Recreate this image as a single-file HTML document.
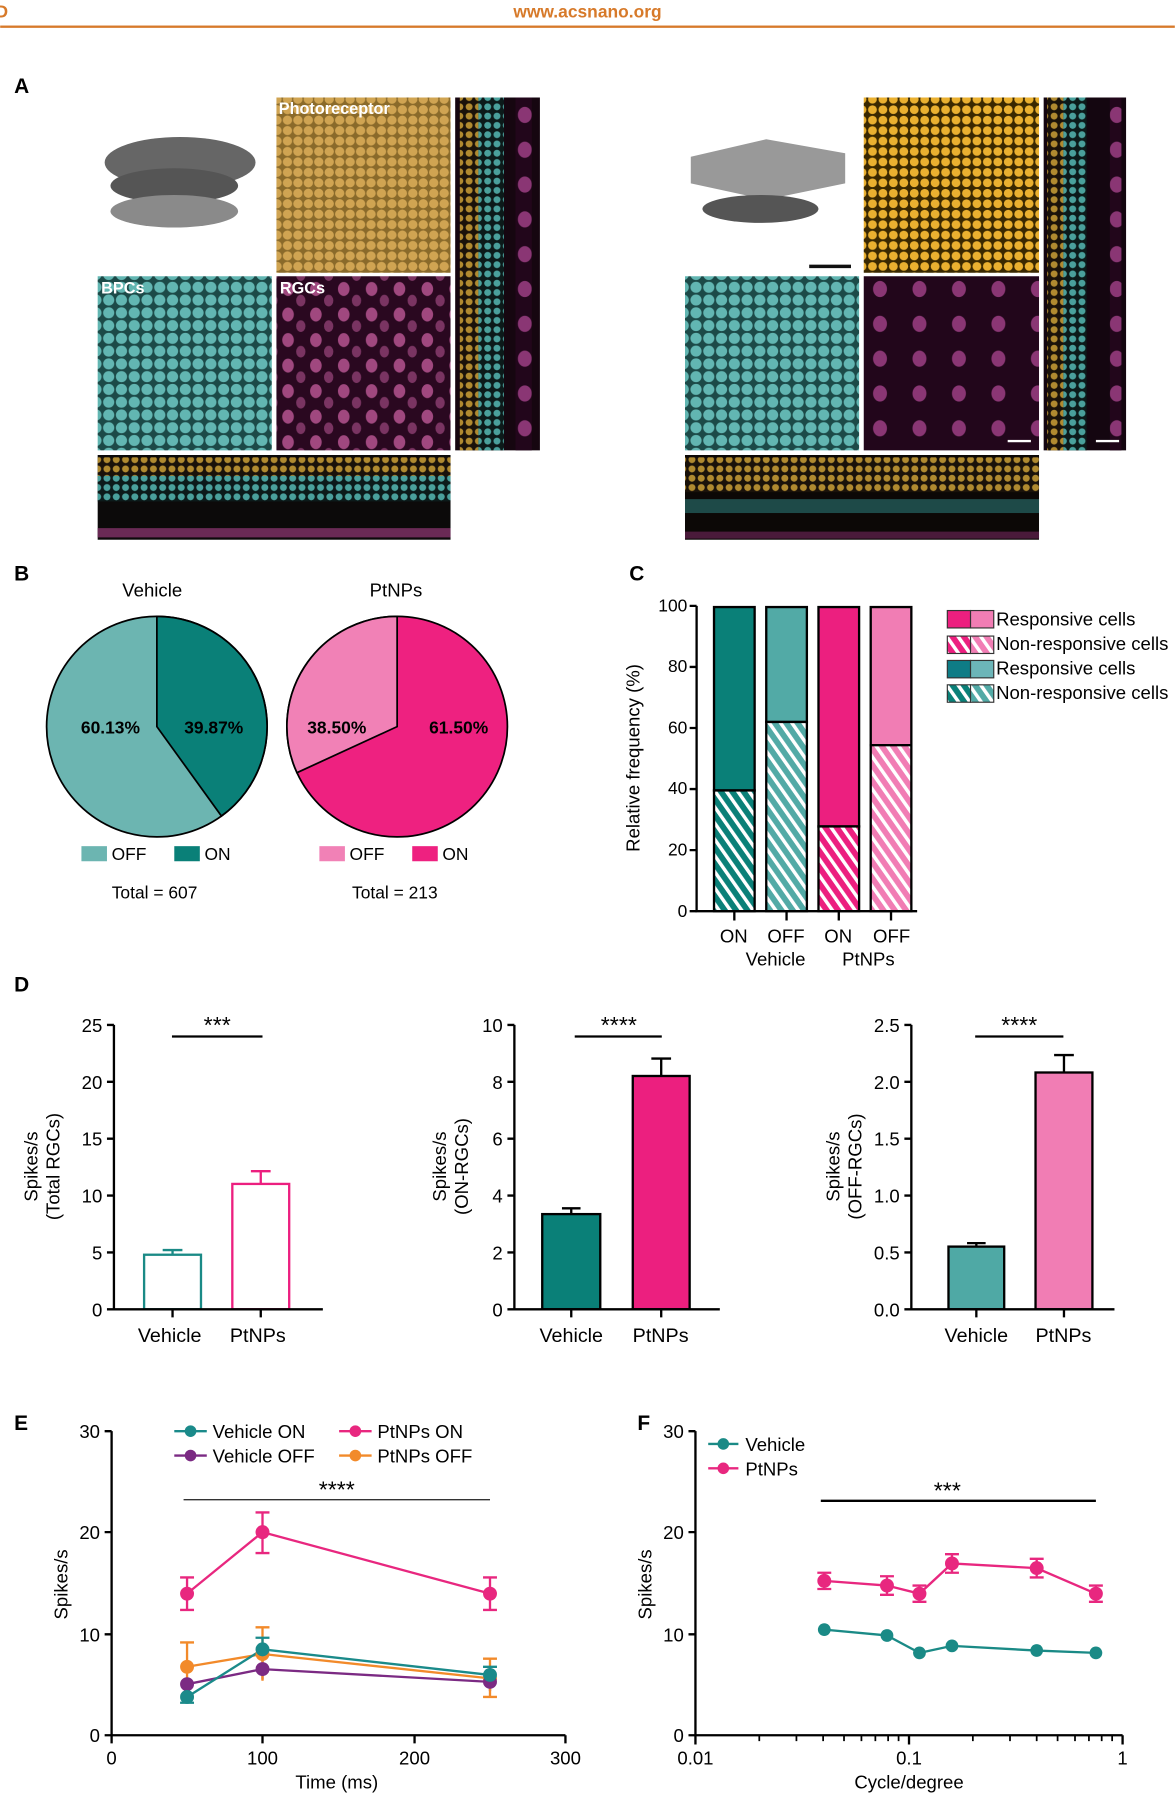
<!DOCTYPE html>
<html><head><meta charset="utf-8"><style>
html,body{margin:0;padding:0;background:#fff;}
svg{display:block;}
text{font-family:"Liberation Sans",Arial,sans-serif;}
</style></head><body>
<svg width="1175" height="1820" viewBox="0 0 1012 1568" xmlns="http://www.w3.org/2000/svg">
<defs>
<pattern id="yel1" width="9" height="9" patternUnits="userSpaceOnUse"><rect width="9" height="9" fill="#8a6a2a"/><circle cx="4.5" cy="4.5" r="4" fill="#d0a452"/></pattern>
<pattern id="yel2" width="9" height="9" patternUnits="userSpaceOnUse"><rect width="9" height="9" fill="#3a2800"/><circle cx="4.5" cy="4.5" r="3.8" fill="#eab030"/></pattern>
<pattern id="cyn" width="11" height="11" patternUnits="userSpaceOnUse"><rect width="11" height="11" fill="#1c4a48"/><circle cx="5.5" cy="5.5" r="4.8" fill="#62b6b2"/></pattern>
<pattern id="mag" width="24" height="22" patternUnits="userSpaceOnUse"><rect width="24" height="22" fill="#2a0820"/><ellipse cx="8" cy="7" rx="5" ry="6" fill="#a0487f"/><ellipse cx="19" cy="17" rx="4" ry="5" fill="#7a3462"/></pattern>
<pattern id="mag2" width="34" height="30" patternUnits="userSpaceOnUse"><rect width="34" height="30" fill="#22061b"/><ellipse cx="10" cy="9" rx="6" ry="7" fill="#8a3674"/></pattern>
<pattern id="yc" width="8" height="8" patternUnits="userSpaceOnUse"><rect width="8" height="8" fill="#1a120a"/><circle cx="4" cy="4" r="3" fill="#b08a30"/></pattern>
<pattern id="cc" width="8" height="8" patternUnits="userSpaceOnUse"><rect width="8" height="8" fill="#0c1a1a"/><circle cx="4" cy="4" r="3" fill="#4aa09c"/></pattern>
<pattern id="h1" width="8" height="8" patternUnits="userSpaceOnUse" patternTransform="rotate(-35)"><rect width="8" height="8" fill="#0a8078"/><rect width="3" height="8" fill="#fff"/></pattern>
<pattern id="h2" width="8" height="8" patternUnits="userSpaceOnUse" patternTransform="rotate(-35)"><rect width="8" height="8" fill="#52aaa6"/><rect width="3" height="8" fill="#fff"/></pattern>
<pattern id="h3" width="8" height="8" patternUnits="userSpaceOnUse" patternTransform="rotate(-35)"><rect width="8" height="8" fill="#ec1f7f"/><rect width="3" height="8" fill="#fff"/></pattern>
<pattern id="h4" width="8" height="8" patternUnits="userSpaceOnUse" patternTransform="rotate(-35)"><rect width="8" height="8" fill="#f17db4"/><rect width="3" height="8" fill="#fff"/></pattern>
</defs>

<!-- header -->
<text x="506" y="15" font-size="15" font-weight="bold" fill="#d77a2a" text-anchor="middle">www.acsnano.org</text>
<text x="-4" y="15" font-size="15" font-weight="bold" fill="#d77a2a">D</text>
<rect x="0" y="22" width="1012" height="2" fill="#d77a2a"/>

<!-- A -->
<text x="12" y="80" font-size="18" font-weight="bold">A</text>
<g>
<ellipse cx="155" cy="140" rx="65" ry="22" fill="#666"/>
<ellipse cx="150" cy="160" rx="55" ry="15" fill="#555"/>
<ellipse cx="150" cy="182" rx="55" ry="14" fill="#8a8a8a"/>
<rect x="238" y="84" width="150" height="151" fill="url(#yel1)"/>
<text x="240" y="98" font-size="14" font-weight="bold" fill="#fff">Photoreceptor</text>
<rect x="392" y="84" width="73" height="304" fill="#160610"/>
<rect x="396" y="84" width="16" height="304" fill="url(#yc)"/>
<rect x="412" y="84" width="22" height="304" fill="url(#cc)"/>
<rect x="444" y="84" width="14" height="304" fill="url(#mag2)"/>
<rect x="84" y="238" width="150" height="150" fill="url(#cyn)"/>
<text x="87" y="253" font-size="14" font-weight="bold" fill="#fff">BPCs</text>
<rect x="238" y="238" width="150" height="150" fill="url(#mag)"/>
<text x="241" y="253" font-size="14" font-weight="bold" fill="#fff">RGCs</text>
<rect x="84" y="392" width="304" height="73" fill="#0c0a0a"/>
<rect x="84" y="394" width="304" height="16" fill="url(#yc)"/>
<rect x="84" y="410" width="304" height="22" fill="url(#cc)"/>
<rect x="84" y="455" width="304" height="8" fill="#6a2a55"/>
</g>
<g>
<path d="M595 135 L660 120 L728 132 L728 158 L660 172 L595 158 Z" fill="#999"/>
<ellipse cx="655" cy="180" rx="50" ry="12" fill="#555"/>
<rect x="697" y="228" width="36" height="3" fill="#111"/>
<rect x="744" y="84" width="151" height="151" fill="url(#yel2)"/>
<rect x="899" y="84" width="71" height="304" fill="#140610"/>
<rect x="902" y="84" width="14" height="304" fill="url(#yc)"/>
<rect x="916" y="84" width="20" height="304" fill="url(#cc)"/>
<rect x="956" y="84" width="10" height="304" fill="url(#mag2)"/>
<rect x="590" y="238" width="150" height="150" fill="url(#cyn)"/>
<rect x="744" y="238" width="151" height="150" fill="url(#mag2)"/>
<rect x="868" y="379" width="20" height="2" fill="#fff"/>
<rect x="944" y="379" width="20" height="2" fill="#fff"/>
<rect x="590" y="392" width="305" height="73" fill="#0c0806"/>
<rect x="590" y="394" width="305" height="30" fill="url(#yc)"/>
<rect x="590" y="430" width="305" height="12" fill="#1e4a48"/>
<rect x="590" y="458" width="305" height="6" fill="#4a1a3a"/>
</g>

<!-- B -->
<text x="12" y="500" font-size="18" font-weight="bold">B</text>
<text x="131" y="514" font-size="16" text-anchor="middle">Vehicle</text>
<text x="341" y="514" font-size="16" text-anchor="middle">PtNPs</text>
<g stroke="#000" stroke-width="1.5">
<circle cx="135" cy="626" r="95" fill="#6cb5b1"/>
<path d="M135 626 L135 531 A95 95 0 0 1 190.6 703 Z" fill="#0a8078"/>
<circle cx="342" cy="626" r="95" fill="#ee2180"/>
<path d="M342 626 L342 531 A95 95 0 0 0 255.7 665.7 Z" fill="#f181b6"/>
</g>
<g font-size="15" font-weight="bold" text-anchor="middle">
<text x="95" y="632">60.13%</text><text x="184" y="632">39.87%</text>
<text x="290" y="632">38.50%</text><text x="395" y="632">61.50%</text>
</g>
<g font-size="15">
<rect x="70" y="729" width="22" height="13" fill="#6cb5b1"/><text x="96" y="741">OFF</text>
<rect x="150" y="729" width="22" height="13" fill="#0a8078"/><text x="176" y="741">ON</text>
<rect x="275" y="729" width="22" height="13" fill="#f181b6"/><text x="301" y="741">OFF</text>
<rect x="355" y="729" width="22" height="13" fill="#ee2180"/><text x="381" y="741">ON</text>
<text x="133" y="774" text-anchor="middle">Total = 607</text>
<text x="340" y="774" text-anchor="middle">Total = 213</text>
</g>

<!-- C -->
<text x="542" y="500" font-size="18" font-weight="bold">C</text>
<g stroke="#000" stroke-width="2">
<rect x="615" y="523" width="35" height="158" fill="#0a8078"/>
<rect x="615" y="681" width="35" height="104" fill="url(#h1)"/>
<rect x="660" y="523" width="35" height="99" fill="#52aaa6"/>
<rect x="660" y="622" width="35" height="163" fill="url(#h2)"/>
<rect x="705" y="523" width="35" height="189" fill="#ec1f7f"/>
<rect x="705" y="712" width="35" height="73" fill="url(#h3)"/>
<rect x="750" y="523" width="35" height="119" fill="#f17db4"/>
<rect x="750" y="642" width="35" height="143" fill="url(#h4)"/>
<path d="M600 522 V785 H790" fill="none"/>
<path d="M594 522 H600 M594 574.6 H600 M594 627.2 H600 M594 679.8 H600 M594 732.4 H600 M594 785 H600 M632.5 785 V793 M677.5 785 V793 M722.5 785 V793 M767.5 785 V793" fill="none"/>
</g>
<g font-size="15" text-anchor="end">
<text x="592" y="527">100</text><text x="592" y="579">80</text><text x="592" y="632">60</text><text x="592" y="684">40</text><text x="592" y="737">20</text><text x="592" y="790">0</text>
</g>
<text transform="translate(551,653) rotate(-90)" font-size="16" text-anchor="middle">Relative frequency (%)</text>
<g font-size="16" text-anchor="middle">
<text x="632" y="812">ON</text><text x="677" y="812">OFF</text><text x="722" y="812">ON</text><text x="768" y="812">OFF</text>
<text x="668" y="832">Vehicle</text><text x="748" y="832">PtNPs</text>
</g>
<g stroke="#333" stroke-width="1">
<rect x="816" y="526" width="20" height="15" fill="#ec1f7f"/><rect x="836" y="526" width="20" height="15" fill="#f17db4"/>
<rect x="816" y="548" width="20" height="15" fill="url(#h3)"/><rect x="836" y="548" width="20" height="15" fill="url(#h4)"/>
<rect x="816" y="569" width="20" height="15" fill="#0e7c86"/><rect x="836" y="569" width="20" height="15" fill="#6cb5b8"/>
<rect x="816" y="590" width="20" height="15" fill="url(#h1)"/><rect x="836" y="590" width="20" height="15" fill="url(#h2)"/>
</g>
<g font-size="16">
<text x="858" y="539">Responsive cells</text><text x="858" y="560">Non-responsive cells</text>
<text x="858" y="581">Responsive cells</text><text x="858" y="602">Non-responsive cells</text>
</g>

<!-- D -->
<text x="12" y="854" font-size="18" font-weight="bold">D</text>
<g stroke-width="2" fill="none">
<rect x="124" y="1081" width="49" height="47" stroke="#1a8a86" fill="#fff"/>
<rect x="200" y="1020" width="49" height="108" stroke="#ec1f7f" fill="#fff"/>
<path d="M148.5 1081 V1077 M140 1077 H157" stroke="#1a8a86"/>
<path d="M224.5 1020 V1009 M216 1009 H233" stroke="#ec1f7f"/>
<path d="M98 883 V1128 H278 M92 883 H98 M92 932 H98 M92 981 H98 M92 1030 H98 M92 1079 H98 M92 1128 H98 M148.5 1128 V1135 M224.5 1128 V1135 M148 893 H226" stroke="#000"/>
</g>
<g font-size="16" text-anchor="end">
<text x="88" y="889">25</text><text x="88" y="938">20</text><text x="88" y="987">15</text><text x="88" y="1036">10</text><text x="88" y="1085">5</text><text x="88" y="1134">0</text>
</g>
<text x="187" y="890" font-size="20" text-anchor="middle">***</text>
<text transform="translate(32,1005) rotate(-90)" font-size="16" text-anchor="middle">Spikes/s</text>
<text transform="translate(51,1005) rotate(-90)" font-size="16" text-anchor="middle">(Total RGCs)</text>
<text x="146" y="1156" font-size="17" text-anchor="middle">Vehicle</text>
<text x="222" y="1156" font-size="17" text-anchor="middle">PtNPs</text>
<g stroke-width="2" stroke="#000">
<rect x="467" y="1046" width="50" height="82" fill="#0a8078"/>
<rect x="545" y="927" width="49" height="201" fill="#ec1f7f"/>
<path d="M492 1046 V1041 M484 1041 H500 M569.5 927 V912 M561 912 H578" fill="none"/>
<path d="M443 883 V1128 H620 M437 883 H443 M437 932 H443 M437 981 H443 M437 1030 H443 M437 1079 H443 M437 1128 H443 M492 1128 V1135 M569.5 1128 V1135 M495 893 H570" fill="none"/>
</g>
<g font-size="16" text-anchor="end">
<text x="433" y="889">10</text><text x="433" y="938">8</text><text x="433" y="987">6</text><text x="433" y="1036">4</text><text x="433" y="1085">2</text><text x="433" y="1134">0</text>
</g>
<text x="533" y="890" font-size="20" text-anchor="middle">****</text>
<text transform="translate(384,1005) rotate(-90)" font-size="16" text-anchor="middle">Spikes/s</text>
<text transform="translate(403,1005) rotate(-90)" font-size="16" text-anchor="middle">(ON-RGCs)</text>
<text x="492" y="1156" font-size="17" text-anchor="middle">Vehicle</text>
<text x="569" y="1156" font-size="17" text-anchor="middle">PtNPs</text>
<g stroke-width="2" stroke="#000">
<rect x="817" y="1074" width="48" height="54" fill="#4fa9a5"/>
<rect x="892" y="924" width="49" height="204" fill="#f17db4"/>
<path d="M841 1074 V1071 M833 1071 H849 M916.5 924 V909 M908 909 H925" fill="none"/>
<path d="M785 883 V1128 H960 M779 883 H785 M779 932 H785 M779 981 H785 M779 1030 H785 M779 1079 H785 M779 1128 H785 M841 1128 V1135 M916.5 1128 V1135 M840 893 H916" fill="none"/>
</g>
<g font-size="16" text-anchor="end">
<text x="775" y="889">2.5</text><text x="775" y="938">2.0</text><text x="775" y="987">1.5</text><text x="775" y="1036">1.0</text><text x="775" y="1085">0.5</text><text x="775" y="1134">0.0</text>
</g>
<text x="878" y="890" font-size="20" text-anchor="middle">****</text>
<text transform="translate(723,1005) rotate(-90)" font-size="16" text-anchor="middle">Spikes/s</text>
<text transform="translate(742,1005) rotate(-90)" font-size="16" text-anchor="middle">(OFF-RGCs)</text>
<text x="841" y="1156" font-size="17" text-anchor="middle">Vehicle</text>
<text x="916" y="1156" font-size="17" text-anchor="middle">PtNPs</text>

<!-- E -->
<text x="12" y="1232" font-size="18" font-weight="bold">E</text>
<g stroke="#000" stroke-width="2" fill="none">
<path d="M96 1233 V1495 H487 M90 1233 H96 M90 1320 H96 M90 1408 H96 M90 1495 H96 M96 1495 V1502 M226 1495 V1502 M357 1495 V1502 M487 1495 V1502"/>
</g>
<path d="M158 1292 H422" stroke="#333" stroke-width="1.2"/>
<text x="290" y="1290" font-size="20" text-anchor="middle">****</text>
<g font-size="16" text-anchor="end">
<text x="86" y="1239">30</text><text x="86" y="1326">20</text><text x="86" y="1414">10</text><text x="86" y="1501">0</text>
</g>
<g font-size="16" text-anchor="middle">
<text x="96" y="1520">0</text><text x="226" y="1520">100</text><text x="357" y="1520">200</text><text x="487" y="1520">300</text>
<text x="290" y="1541">Time (ms)</text>
</g>
<text transform="translate(58,1365) rotate(-90)" font-size="16" text-anchor="middle">Spikes/s</text>
<g stroke-width="2" fill="none">
<g stroke="#7b2a83"><path d="M161 1451 L226 1438 L422 1449"/><path d="M226 1429 V1447 M422 1441 V1457"/></g>
<g stroke="#f28a2a"><path d="M161 1436 L226 1425 L422 1446"/><path d="M161 1415 V1457 M155 1415 H167 M226 1402 V1448 M220 1402 H232 M422 1429 V1462 M416 1429 H428 M416 1462 H428"/></g>
<g stroke="#1a8a8a"><path d="M161 1462 L226 1421 L422 1443"/><path d="M161 1457 V1467 M155 1467 H167 M226 1411 V1431 M220 1411 H232 M422 1436 V1450 M416 1436 H428"/></g>
<g stroke="#e8277f"><path d="M161 1373 L226 1320 L422 1373"/><path d="M161 1359 V1387 M155 1359 H167 M155 1387 H167 M226 1303 V1338 M220 1303 H232 M220 1338 H232 M422 1359 V1387 M416 1359 H428 M416 1387 H428"/></g>
</g>
<g>
<circle cx="161" cy="1436" r="6" fill="#f28a2a"/><circle cx="226" cy="1425" r="6" fill="#f28a2a"/><circle cx="422" cy="1446" r="6" fill="#f28a2a"/>
<circle cx="161" cy="1451" r="6" fill="#7b2a83"/><circle cx="226" cy="1438" r="6" fill="#7b2a83"/><circle cx="422" cy="1449" r="6" fill="#7b2a83"/>
<circle cx="161" cy="1462" r="6" fill="#1a8a8a"/><circle cx="226" cy="1421" r="6" fill="#1a8a8a"/><circle cx="422" cy="1443" r="6" fill="#1a8a8a"/>
<circle cx="161" cy="1373" r="6" fill="#e8277f"/><circle cx="226" cy="1320" r="6" fill="#e8277f"/><circle cx="422" cy="1373" r="6" fill="#e8277f"/>
</g>
<g stroke-width="2">
<path d="M150 1233 H178" stroke="#1a8a8a"/><circle cx="164" cy="1233" r="5" fill="#1a8a8a"/>
<path d="M150 1254 H178" stroke="#7b2a83"/><circle cx="164" cy="1254" r="5" fill="#7b2a83"/>
<path d="M292 1233 H320" stroke="#e8277f"/><circle cx="306" cy="1233" r="5" fill="#e8277f"/>
<path d="M292 1254 H320" stroke="#f28a2a"/><circle cx="306" cy="1254" r="5" fill="#f28a2a"/>
</g>
<g font-size="16">
<text x="183" y="1239">Vehicle ON</text><text x="183" y="1260">Vehicle OFF</text>
<text x="325" y="1239">PtNPs ON</text><text x="325" y="1260">PtNPs OFF</text>
</g>

<!-- F -->
<text x="549" y="1232" font-size="18" font-weight="bold">F</text>
<g stroke="#000" stroke-width="2" fill="none">
<path d="M599 1233 V1495 H967 M593 1233 H599 M593 1320 H599 M593 1408 H599 M593 1495 H599 M599 1495 V1503 M783 1495 V1503 M967 1495 V1503"/>
</g>
<g stroke="#000" stroke-width="1.5">
<path d="M654 1495 V1500 M686 1495 V1500 M709 1495 V1500 M727 1495 V1500 M742 1495 V1500 M754 1495 V1500 M765 1495 V1500 M774 1495 V1500 M838 1495 V1500 M870 1495 V1500 M893 1495 V1500 M911 1495 V1500 M926 1495 V1500 M938 1495 V1500 M949 1495 V1500 M958 1495 V1500"/>
</g>
<g font-size="16" text-anchor="end">
<text x="589" y="1239">30</text><text x="589" y="1326">20</text><text x="589" y="1414">10</text><text x="589" y="1501">0</text>
</g>
<g font-size="16" text-anchor="middle">
<text x="599" y="1520">0.01</text><text x="783" y="1520">0.1</text><text x="967" y="1520">1</text>
<text x="783" y="1541">Cycle/degree</text>
</g>
<text transform="translate(561,1365) rotate(-90)" font-size="16" text-anchor="middle">Spikes/s</text>
<path d="M707 1293 H944" stroke="#000" stroke-width="2"/>
<text x="816" y="1291" font-size="20" text-anchor="middle">***</text>
<g stroke-width="2" fill="none">
<path d="M710 1404 L764 1409 L792 1424 L820 1418 L893 1422 L944 1424" stroke="#1a8a86"/>
<path d="M710 1362 L764 1366 L792 1373 L820 1347 L893 1351 L944 1373" stroke="#e8277f"/>
<path d="M710 1355 V1369 M704 1355 H716 M704 1369 H716 M764 1358 V1374 M758 1358 H770 M758 1374 H770 M792 1366 V1380 M786 1366 H798 M786 1380 H798 M820 1339 V1355 M814 1339 H826 M814 1355 H826 M893 1343 V1359 M887 1343 H899 M887 1359 H899 M944 1366 V1380 M938 1366 H950 M938 1380 H950" stroke="#e8277f"/>
</g>
<g fill="#1a8a86"><circle cx="710" cy="1404" r="5.5"/><circle cx="764" cy="1409" r="5.5"/><circle cx="792" cy="1424" r="5.5"/><circle cx="820" cy="1418" r="5.5"/><circle cx="893" cy="1422" r="5.5"/><circle cx="944" cy="1424" r="5.5"/></g>
<g fill="#e8277f"><circle cx="710" cy="1362" r="6"/><circle cx="764" cy="1366" r="6"/><circle cx="792" cy="1373" r="6"/><circle cx="820" cy="1347" r="6"/><circle cx="893" cy="1351" r="6"/><circle cx="944" cy="1373" r="6"/></g>
<g stroke-width="2">
<path d="M610 1244 H636" stroke="#1a8a86"/><circle cx="623" cy="1244" r="5" fill="#1a8a86"/>
<path d="M610 1265 H636" stroke="#e8277f"/><circle cx="623" cy="1265" r="5" fill="#e8277f"/>
</g>
<g font-size="16"><text x="642" y="1250">Vehicle</text><text x="642" y="1271">PtNPs</text></g>
</svg>
</body></html>
